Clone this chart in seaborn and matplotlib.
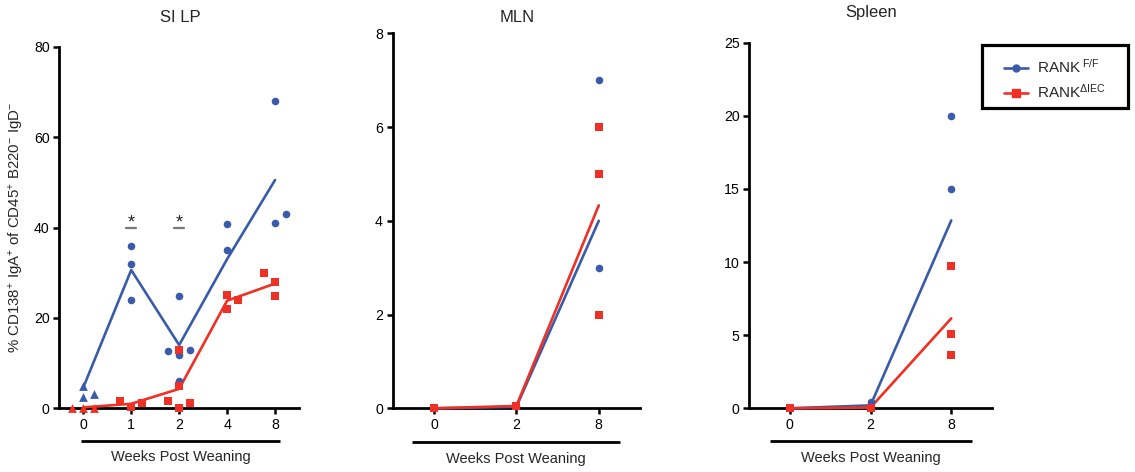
import numpy as np
import pandas as pd
import matplotlib
matplotlib.use("Agg")
import matplotlib.pyplot as plt
from matplotlib.lines import Line2D
from matplotlib.patches import Rectangle
import seaborn as sns

# ---------------- data ----------------
silp_weeks = ["0", "1", "2", "4", "8"]
silp_blue_idx = [0, 0, 0, 1, 1, 1, 2, 2, 2, 2, 2, 3, 3, 4, 4, 4]
silp_blue_vals = [5.0, 2.6, 3.2, 36.0, 31.9, 24.0, 24.9, 12.7, 12.9, 11.7, 6.0, 40.8, 35.0, 68.0, 40.9, 42.9]
silp_blue_jit = [0, 0, 0.23, 0, 0, 0, 0, -0.23, 0.23, 0, 0, 0, 0, 0, 0, 0.23]
silp_blue_line = [4.6, 30.6, 14.0, 33.0, 50.5]
silp_red_idx = [0, 0, 0, 1, 1, 1, 2, 2, 2, 2, 2, 3, 3, 3, 4, 4, 4]
silp_red_vals = [0, 0, 0, 1.6, 0.2, 1.1, 1.7, 13.0, 5.0, 0.0, 1.2, 25.1, 22.0, 24.0, 30.0, 28.0, 24.8]
silp_red_jit = [-0.23, 0, 0.23, -0.23, 0, 0.23, -0.23, 0, 0, 0, 0.23, 0, 0, 0.23, -0.23, 0, 0]
silp_red_line = [0.2, 1.0, 4.3, 23.8, 27.6]
silp_sig_idx = [1, 2]

mln_weeks = ["0", "2", "8"]
mln_blue_idx = [0, 1, 2, 2]
mln_blue_vals = [0.0, 0.05, 7.0, 3.0]
mln_blue_line = [0.0, 0.03, 4.0]
mln_red_idx = [0, 1, 2, 2, 2]
mln_red_vals = [0.0, 0.05, 6.0, 5.0, 2.0]
mln_red_line = [0.0, 0.05, 4.33]

spl_weeks = ["0", "2", "8"]
spl_blue_idx = [0, 1, 2, 2]
spl_blue_vals = [0.0, 0.4, 20.0, 15.0]
spl_blue_line = [0.0, 0.2, 12.85]
spl_red_idx = [0, 1, 2, 2, 2]
spl_red_vals = [0.0, 0.05, 9.75, 5.1, 3.65]
spl_red_line = [0.0, 0.05, 6.15]

legend_labels = ["RANK$^{\\ F/F}$", "RANK$^{ΔIEC}$"]
titles = ["SI LP", "MLN", "Spleen"]
xlabel = "Weeks Post Weaning"
ylabel = "% CD138$^{+}$ IgA$^{+}$ of CD45$^{+}$ B220$^{-}$ IgD$^{-}$"

# ---------------- style ----------------
sns.set_theme(style="ticks")
plt.rcParams["font.family"] = ["Liberation Sans", "DejaVu Sans"]
plt.rcParams["mathtext.fontset"] = "custom"
plt.rcParams["mathtext.rm"] = "Liberation Sans"
plt.rcParams["mathtext.it"] = "Liberation Sans:italic"
plt.rcParams["mathtext.bf"] = "Liberation Sans:bold"
plt.rcParams["mathtext.default"] = "regular"

BLUE = "#3A5BA9"
RED = "#EE3124"

fig = plt.figure(figsize=(11.35, 4.72), dpi=100)
W, H = 1135.0, 472.0


def axes_px(left, right, top, bottom):
    return fig.add_axes([left / W, (H - bottom) / H, (right - left) / W, (bottom - top) / H])


ax1 = axes_px(59.3, 299.0, 46.7, 408.3)
ax2 = axes_px(392.7, 640.0, 33.3, 408.3)
ax3 = axes_px(749.3, 991.7, 42.7, 408.3)


def draw_points(ax, idx, vals, jit, color, marker, tri_first):
    idx = np.asarray(idx)
    x = idx + np.asarray(jit, dtype=float)
    vals = np.asarray(vals, dtype=float)
    size = 30 if marker == "o" else 36
    if tri_first:
        m0 = idx == 0
        sns.scatterplot(x=x[m0], y=vals[m0], marker="^", color=color, s=40,
                        linewidth=0, ax=ax, clip_on=False, zorder=4)
        m1 = ~m0
        sns.scatterplot(x=x[m1], y=vals[m1], marker=marker, color=color, s=size,
                        linewidth=0, ax=ax, clip_on=False, zorder=4)
    else:
        sns.scatterplot(x=x, y=vals, marker=marker, color=color, s=size,
                        linewidth=0, ax=ax, clip_on=False, zorder=4)


def draw_line(ax, line, color, z):
    sns.lineplot(x=np.arange(len(line)), y=line, color=color, linewidth=1.9,
                 ax=ax, clip_on=False, zorder=z)


def style_axis(ax, weeks, ymax, yticks, bracket):
    ax.set_xlim(-0.5, len(weeks) - 0.5)
    ax.set_ylim(0, ymax)
    ax.set_xticks(range(len(weeks)))
    ax.set_xticklabels(weeks)
    ax.set_yticks(yticks)
    ax.set_yticklabels([str(t) for t in yticks])
    for s in ["top", "right"]:
        ax.spines[s].set_visible(False)
    for s in ["left", "bottom"]:
        ax.spines[s].set_linewidth(2.0)
        ax.spines[s].set_color("black")
    ax.tick_params(axis="both", which="major", length=4, width=1.8, color="black",
                   labelsize=10.2, labelcolor="black", direction="out", pad=3)
    ax.set_xlabel("")
    ax.set_ylabel("")
    ax.grid(False)
    tr = ax.get_xaxis_transform()
    ax.plot([bracket[0], bracket[1]], [-0.09, -0.09], color="black", linewidth=2.0,
            transform=tr, clip_on=False, solid_capstyle="butt")
    ax.text((bracket[0] + bracket[1]) / 2, -0.135, xlabel, transform=tr,
            ha="center", va="center", fontsize=10.5)


# SI LP
draw_line(ax1, silp_blue_line, BLUE, 3)
draw_line(ax1, silp_red_line, RED, 3.5)
draw_points(ax1, silp_blue_idx, silp_blue_vals, silp_blue_jit, BLUE, "o", True)
draw_points(ax1, silp_red_idx, silp_red_vals, silp_red_jit, RED, "s", True)
style_axis(ax1, silp_weeks, 80, [0, 20, 40, 60, 80], (-0.05, 4.11))
for xi in silp_sig_idx:
    ax1.text(xi, 41.0, "*", ha="center", va="center", fontsize=13, color="#222222")
    ax1.plot([xi - 0.11, xi + 0.11], [39.8, 39.8], color="#777777", linewidth=1.6)
ax1.set_ylabel(ylabel, fontsize=10.8, labelpad=6)

# MLN
draw_line(ax2, mln_blue_line, BLUE, 3)
draw_line(ax2, mln_red_line, RED, 3.5)
draw_points(ax2, mln_blue_idx, mln_blue_vals, [0] * len(mln_blue_idx), BLUE, "o", False)
draw_points(ax2, mln_red_idx, mln_red_vals, [0] * len(mln_red_idx), RED, "s", False)
style_axis(ax2, mln_weeks, 8, [0, 2, 4, 6, 8], (-0.26, 2.26))

# Spleen
draw_line(ax3, spl_blue_line, BLUE, 3)
draw_line(ax3, spl_red_line, RED, 3.5)
draw_points(ax3, spl_blue_idx, spl_blue_vals, [0] * len(spl_blue_idx), BLUE, "o", False)
draw_points(ax3, spl_red_idx, spl_red_vals, [0] * len(spl_red_idx), RED, "s", False)
style_axis(ax3, spl_weeks, 25, [0, 5, 10, 15, 20, 25], (-0.25, 2.26))

# titles
fig.text(180 / W, 1 - 18 / H, titles[0], ha="center", va="center", fontsize=12)
fig.text(517 / W, 1 - 18 / H, titles[1], ha="center", va="center", fontsize=12)
fig.text(871 / W, 1 - 12 / H, titles[2], ha="center", va="center", fontsize=12)

# legend frame (drawn separately) and entries
fig.patches.append(Rectangle((981.7 / W, 1 - 108.3 / H), (1128.3 - 981.7) / W,
                             (108.3 - 45.0) / H, transform=fig.transFigure,
                             fill=False, edgecolor="black", linewidth=2.3, zorder=5))
handles = [
    Line2D([0], [0], color=BLUE, marker="o", markersize=5, linewidth=1.9),
    Line2D([0], [0], color=RED, marker="s", markersize=5.5, linewidth=1.9),
]
leg = fig.legend(handles, legend_labels, loc="upper left",
                 bbox_to_anchor=(1004 / W, 1 - 58 / H), fontsize=11,
                 frameon=False, handlelength=1.55, borderpad=0, labelspacing=0.45,
                 handletextpad=0.6, borderaxespad=0)

fig.savefig("out.png", dpi=100)
